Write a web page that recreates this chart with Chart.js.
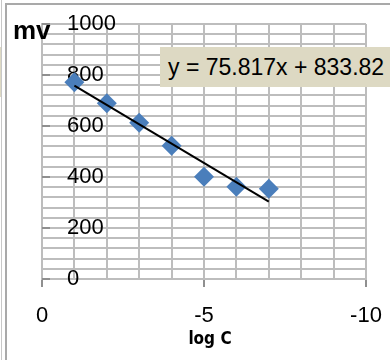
<!DOCTYPE html>
<html>
<head>
<meta charset="utf-8">
<script src="https://cdn.jsdelivr.net/npm/chart.js@4.4.0/dist/chart.umd.min.js"></script>
<style>
  html, body { margin: 0; padding: 0; background: #fff; }
  #wrap { position: relative; width: 390px; height: 360px; overflow: hidden;
          font-family: "Liberation Sans", Arial, sans-serif; color: #000; }
  #chart { position: absolute; left: 0; top: 0; }
  .edge { position: absolute; background: #a9a9a9; }
  #stub { position: absolute; left: 0; top: 47px; width: 2px; height: 50px; background: #ddd9c3; }
  #ytitle { position: absolute; left: 13px; top: 17px; font-size: 26px; line-height: 26px; font-weight: bold; }
  #eq { position: absolute; left: 160px; top: 47px; width: 240px; height: 40px; padding-left: 8px;
        background: #ddd9c3; font-size: 23px; line-height: 40px; white-space: nowrap; }
  #xtitle { position: absolute; left: 170px; top: 330px; width: 80px; text-align: center;
            font-family: "Liberation Sans Narrow", "DejaVu Sans Condensed", sans-serif;
            font-size: 17px; line-height: 17px; font-weight: bold; }
</style>
</head>
<body>
<div id="wrap">
  <canvas id="chart" width="390" height="360"></canvas>
  <div id="stub"></div>
  <div class="edge" style="left:1px;top:0;width:1px;height:360px;background:#c8c8c8"></div>
  <div class="edge" style="left:5px;top:3px;width:2px;height:357px"></div>
  <div class="edge" style="left:5px;top:3px;width:385px;height:2px"></div>
  <div id="ytitle">mv</div>
  <div id="eq">y = 75.817x + 833.82</div>
  <div id="xtitle">log C</div>
</div>
<script>
// measured points (log C vs potential in mV)
const logC = [-1, -2, -3, -4, -5, -6, -7];
const mv = [772, 689, 613, 523, 401, 362, 354];

// linear trend line shown on the chart
const trendSlope = 75.817;
const trendIntercept = 833.82;

const xMajorTicks = [0, -5, -10];
const yMajorTicks = [0, 200, 400, 600, 800, 1000];

const gridColor = '#bdbdbd';
const tickMarkColor = '#8f8f8f';
const labelFont = { family: '"Liberation Sans", Arial, sans-serif', size: 22 };

const points = logC.map((x, i) => ({ x: x, y: mv[i] }));
const xFirst = Math.max(...logC);
const xLast = Math.min(...logC);
const trendPoints = [xFirst, xLast].map(x => ({ x: x, y: trendSlope * x + trendIntercept }));

// short inner tick marks on the value axis (major values only)
const innerTicks = {
  id: 'innerTicks',
  beforeDatasetsDraw(chart) {
    const { ctx, chartArea, scales } = chart;
    ctx.save();
    ctx.strokeStyle = tickMarkColor;
    ctx.lineWidth = 2;
    yMajorTicks.forEach(v => {
      const py = Math.round(scales.y.getPixelForValue(v));
      ctx.beginPath();
      ctx.moveTo(chartArea.left, py);
      ctx.lineTo(chartArea.left + 8, py);
      ctx.stroke();
    });
    ctx.restore();
  }
};

function flatY(scale) {
  scale.width = 0;
  scale.paddingTop = 0;
  scale.paddingBottom = 0;
}

new Chart(document.getElementById('chart'), {
  type: 'scatter',
  data: {
    datasets: [
      {
        type: 'line',
        data: trendPoints,
        borderColor: '#000',
        borderWidth: 2,
        pointRadius: 0,
        fill: false,
      },
      {
        data: points,
        pointStyle: 'rectRot',
        pointRadius: 10,
        pointHoverRadius: 10,
        backgroundColor: '#4a7ebb',
        borderWidth: 0,
      },
    ],
  },
  options: {
    responsive: false,
    animation: false,
    events: [],
    layout: { padding: { left: 42, right: 24, top: 24, bottom: 0 } },
    plugins: {
      legend: { display: false },
      tooltip: { enabled: false },
    },
    scales: {
      x: {
        type: 'linear',
        reverse: true,
        min: -10,
        max: 0,
        grid: {
          color: gridColor,
          lineWidth: 2,
          tickLength: 8,
          tickWidth: 2,
          tickColor: (c) => xMajorTicks.includes(c.tick && c.tick.value) ? tickMarkColor : 'rgba(0,0,0,0)',
        },
        border: { color: gridColor, width: 2 },
        ticks: {
          stepSize: 1,
          autoSkip: false,
          maxRotation: 0,
          padding: 16,
          color: '#000',
          font: labelFont,
          callback: (v) => xMajorTicks.includes(v) ? String(v) : '',
        },
        afterFit(scale) {
          scale.height = 81;
          scale.paddingLeft = 0;
          scale.paddingRight = 0;
        },
      },
      // grid only, drawn under the markers
      y: {
        min: 0,
        max: 1000,
        grid: { color: gridColor, lineWidth: 2, drawTicks: false },
        border: { color: gridColor, width: 2 },
        ticks: {
          stepSize: 40,
          autoSkip: false,
          display: false,
        },
        afterFit: flatY,
      },
      // value labels, drawn over the markers
      yLabels: {
        position: 'left',
        z: 1,
        min: 0,
        max: 1000,
        grid: { display: false, drawTicks: false },
        border: { display: false },
        ticks: {
          stepSize: 200,
          autoSkip: false,
          mirror: true,
          padding: 25,
          color: '#000',
          font: labelFont,
          callback: (v) => yMajorTicks.includes(v) ? String(v) : '',
        },
        afterFit: flatY,
      },
    },
  },
  plugins: [innerTicks],
});
</script>
</body>
</html>
